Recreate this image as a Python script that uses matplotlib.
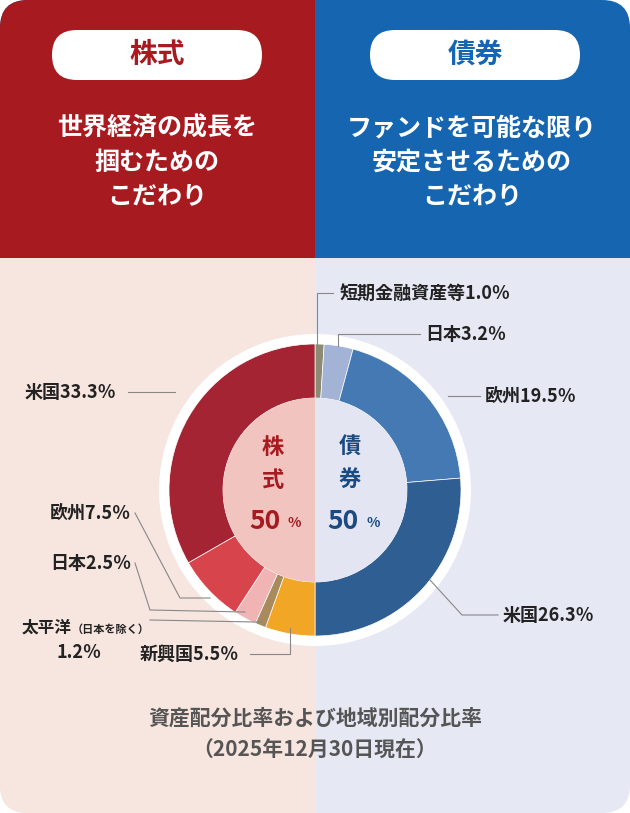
import matplotlib
matplotlib.use("Agg")
import matplotlib.pyplot as plt
from matplotlib.patches import FancyBboxPatch, Rectangle, Circle, Wedge
plt.rcParams['font.family'] = ['Noto Sans CJK JP', 'DejaVu Sans']

categories = ["短期金融資産等", "日本", "欧州", "米国", "新興国", "太平洋", "日本", "欧州", "米国"]
values = [1.0, 3.2, 19.5, 26.3, 5.5, 1.2, 2.5, 7.5, 33.3]
colors = ["#8c8a72", "#a3b3d6", "#4479b4", "#2f5f92", "#f2a626", "#a98a5c", "#f0b4b4", "#d8444c", "#a52434"]
stock_share = 50
bond_share = 50

fig = plt.figure(figsize=(6.3, 8.13), dpi=100)
ax = fig.add_axes([0, 0, 1, 1])
ax.set_xlim(0, 630); ax.set_ylim(813, 0); ax.set_aspect('equal'); ax.axis('off')

R = 28
ax.add_patch(FancyBboxPatch((0, 0), 630, 813, boxstyle=f"round,pad=0,rounding_size={R}", fc="#e6e8f4", ec="none"))
ax.add_patch(FancyBboxPatch((0, 0), 315, 813, boxstyle=f"round,pad=0,rounding_size={R}", fc="#f7e5df", ec="none"))
ax.add_patch(Rectangle((290, 258), 25, 555, fc="#f7e5df", ec="none"))
ax.add_patch(FancyBboxPatch((0, 0), 630, 258, boxstyle=f"round,pad=0,rounding_size={R}", fc="#1565b0", ec="none"))
ax.add_patch(Rectangle((0, 200), 630, 58, fc="#1565b0", ec="none"))
ax.add_patch(FancyBboxPatch((0, 0), 315, 258, boxstyle=f"round,pad=0,rounding_size={R}", fc="#a71a1f", ec="none"))
ax.add_patch(Rectangle((290, 0), 25, 258, fc="#a71a1f", ec="none"))
ax.add_patch(Rectangle((0, 200), 315, 58, fc="#a71a1f", ec="none"))

for x0, txt, col in [(52, "株式", "#a71a1f"), (370, "債券", "#1565b0")]:
    ax.add_patch(FancyBboxPatch((x0, 30), 210, 50, boxstyle="round,pad=0,rounding_size=25", fc="white", ec="none"))
    ax.text(x0 + 105, 55, txt, ha='center', va='center', fontsize=20, fontweight='bold', color=col)
ax.text(157, 163, "世界経済の成長を\n掴むための\nこだわり", ha='center', va='center', fontsize=18,
        fontweight='bold', color='white', linespacing=1.55)
ax.text(472, 163, "ファンドを可能な限り\n安定させるための\nこだわり", ha='center', va='center', fontsize=18,
        fontweight='bold', color='white', linespacing=1.55)

cx, cy, ro, ri = 315, 490, 146, 92
ax.add_patch(Circle((cx, cy), ro + 10, fc='white', ec='none'))
# y axis is inverted: data-counterclockwise from 270 = visually clockwise from top
ax.pie(values, colors=colors, startangle=270, counterclock=True, center=(cx, cy), radius=ro,
       wedgeprops=dict(width=ro - ri, edgecolor='white', linewidth=0.5), frame=True)
ax.set_xlim(0, 630); ax.set_ylim(813, 0); ax.axis('off')
ax.add_patch(Wedge((cx, cy), ri, 90, 270, fc="#f1c4c0", ec='none'))
ax.add_patch(Wedge((cx, cy), ri, 270, 90, fc="#e3e6f2", ec='none'))

ax.text(273, 447, "株", ha='center', va='center', fontsize=16, fontweight='bold', color="#a71a1f")
ax.text(273, 480, "式", ha='center', va='center', fontsize=16, fontweight='bold', color="#a71a1f")
ax.text(280, 521, f"{stock_share}", ha='right', va='center', fontsize=19, fontweight='bold', color="#a71a1f")
ax.text(294, 523, "%", ha='center', va='center', fontsize=10, fontweight='bold', color="#a71a1f")
ax.text(350, 447, "債", ha='center', va='center', fontsize=16, fontweight='bold', color="#1b4a82")
ax.text(350, 480, "券", ha='center', va='center', fontsize=16, fontweight='bold', color="#1b4a82")
ax.text(358, 521, f"{bond_share}", ha='right', va='center', fontsize=19, fontweight='bold', color="#1b4a82")
ax.text(373, 523, "%", ha='center', va='center', fontsize=10, fontweight='bold', color="#1b4a82")

lc = dict(color="#888888", lw=0.8)
def label(x, y, name, val):
    ax.text(x, y, f"{name}{val}", ha='left', va='center', fontsize=13, fontweight='bold', color="#222222")
ax.plot([317, 317, 333], [344, 293, 293], **lc); label(340, 293, categories[0], "1.0％")
ax.plot([338, 338, 420], [346, 334, 334], **lc); label(425, 334, categories[1], "3.2％")
ax.plot([448, 480], [396, 396], **lc); label(485, 396, categories[2], "19.5％")
ax.plot([430, 462, 498], [580, 615, 615], **lc); label(503, 615, categories[3], "26.3％")
ax.plot([290, 290, 250], [628, 654, 654], **lc); label(140, 654, categories[4], "5.5％")
ax.plot([262, 255, 150], [622, 622, 620], **lc)
ax.text(22, 628, "太平洋", ha='left', va='center', fontsize=12, fontweight='bold', color="#222222")
ax.text(72, 629, "（日本を除く）", ha='left', va='center', fontsize=8, fontweight='bold', color="#222222")
ax.text(57, 652, "1.2％", ha='left', va='center', fontsize=13, fontweight='bold', color="#222222")
ax.plot([135, 150, 245], [563, 610, 612], **lc); label(50, 563, categories[6], "2.5％")
ax.plot([135, 180, 210], [513, 598, 598], **lc); label(50, 513, categories[7], "7.5％")
ax.plot([128, 175], [392, 392], **lc); label(25, 392, categories[8], "33.3％")

ax.text(315, 718, "資産配分比率および地域別配分比率", ha='center', va='center', fontsize=15, fontweight='bold', color="#555555")
ax.text(315, 750, "（2025年12月30日現在）", ha='center', va='center', fontsize=15, fontweight='bold', color="#555555")

fig.savefig("out.png", dpi=100)
